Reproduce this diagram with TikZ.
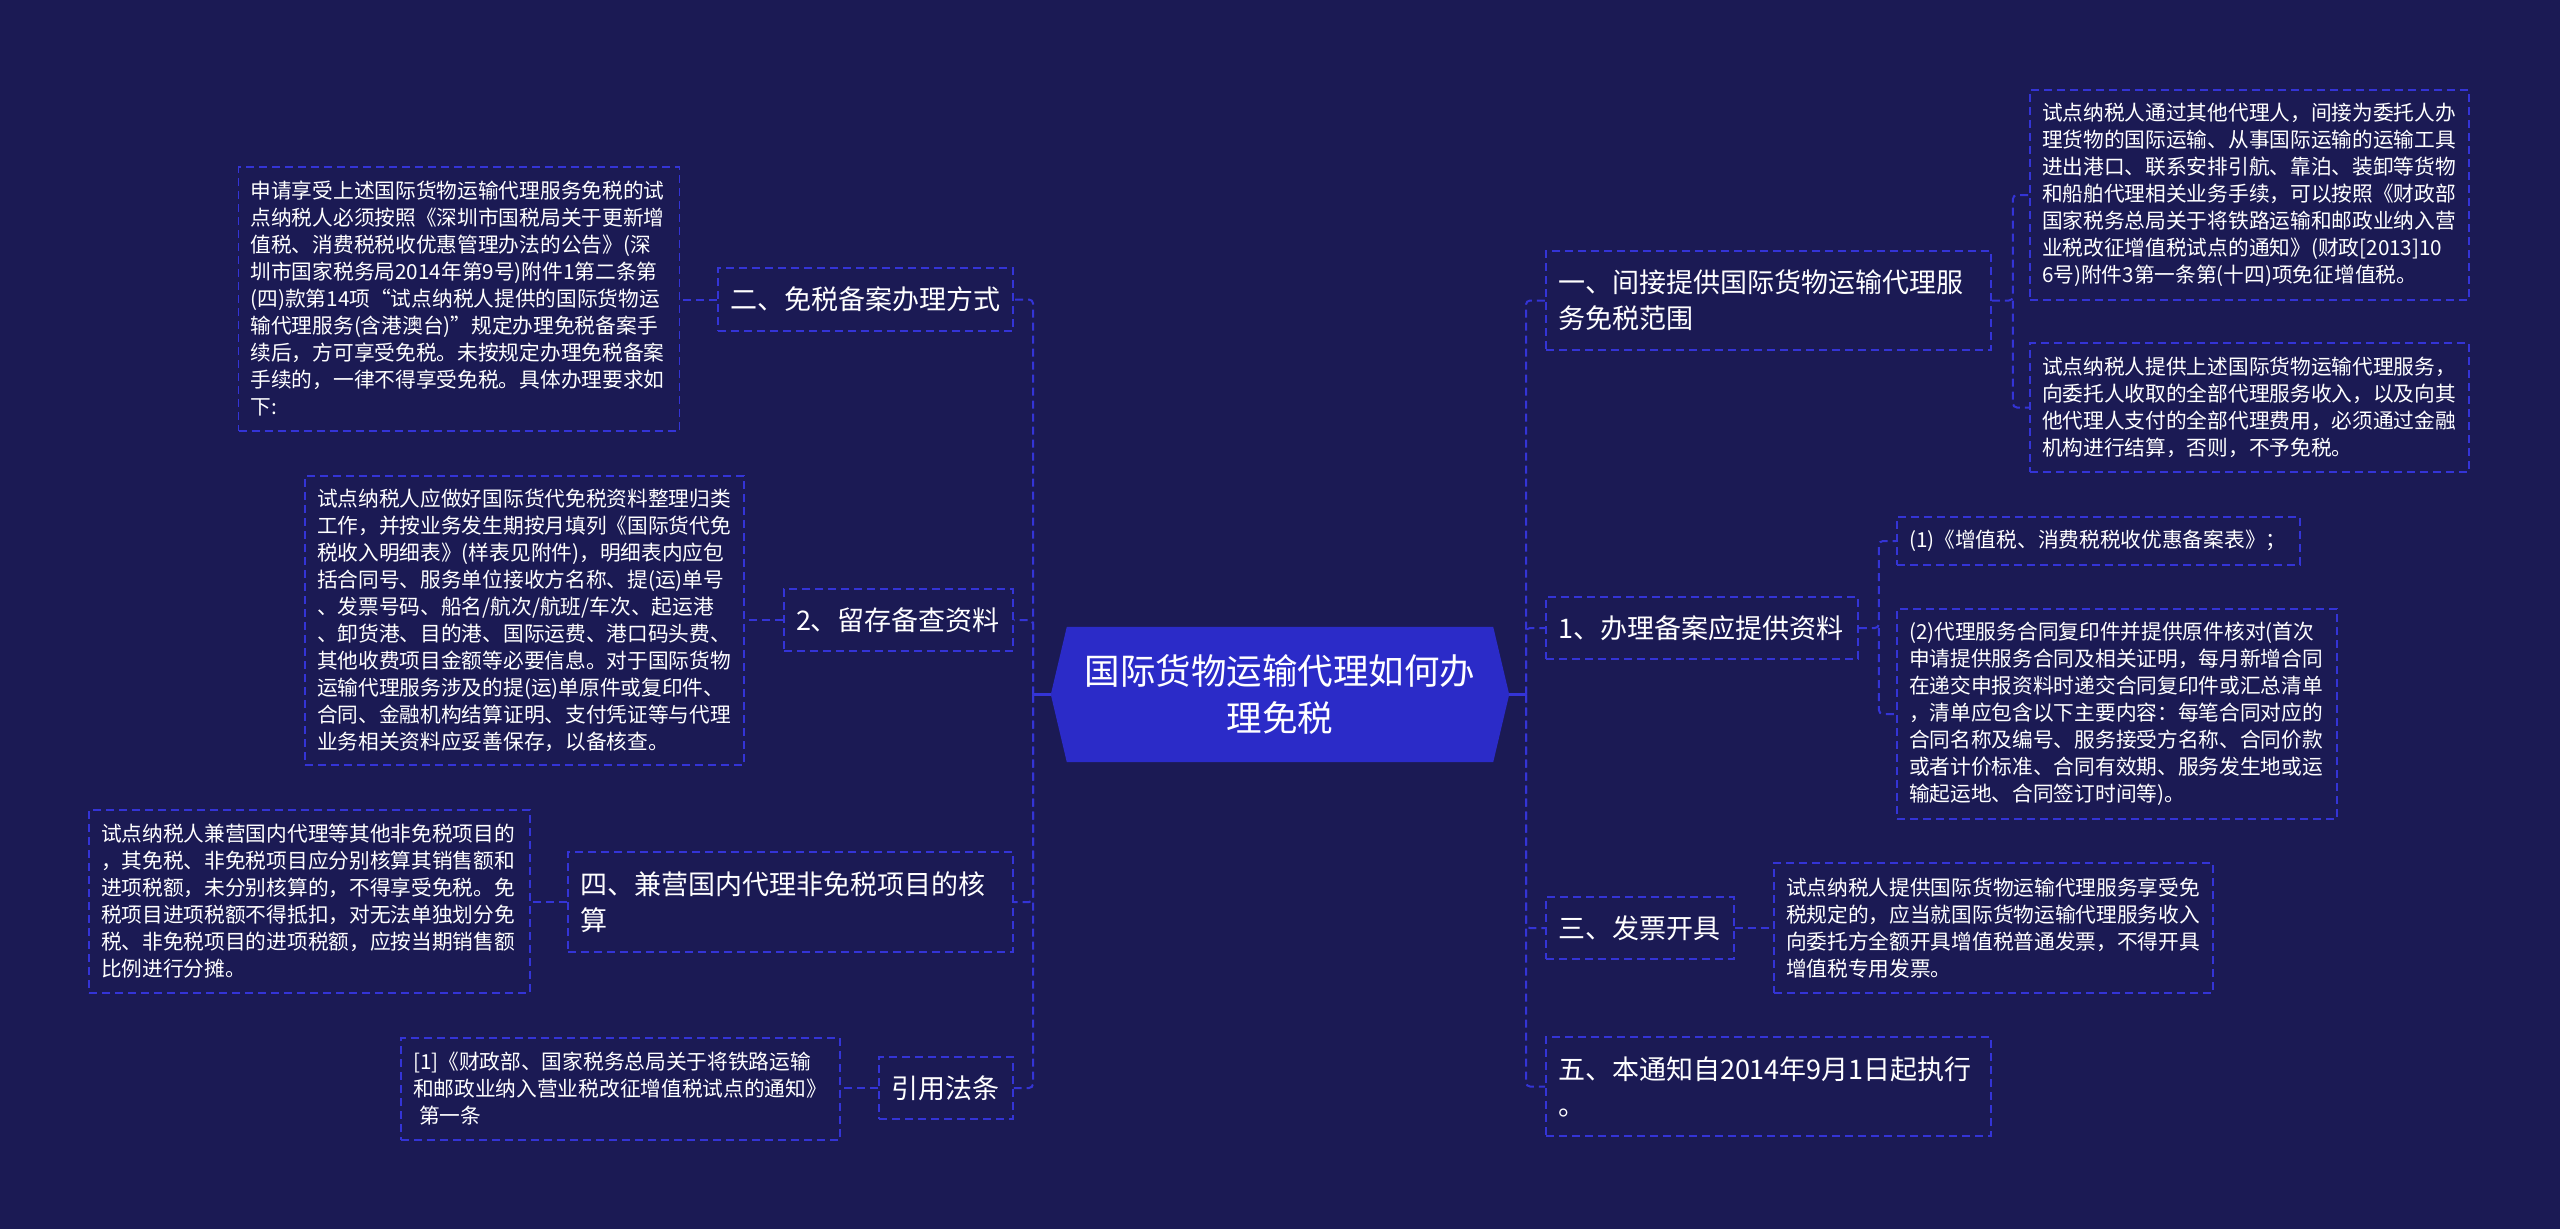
\documentclass[tikz,border=0pt]{standalone}
\usepackage{fontspec}
\setmainfont{Noto Sans CJK SC}
\usetikzlibrary{calc}
\definecolor{bgc}{RGB}{27,26,84}
\definecolor{linec}{RGB}{52,52,214}
\definecolor{centc}{RGB}{43,43,200}
\tikzset{
  box/.style={draw=linec, line width=1.8pt, dash pattern=on 8pt off 5pt, text=white, align=left, anchor=center, inner xsep=12pt, inner ysep=0pt},
  leaf/.style={box, font=\fontsize{20.7pt}{27pt}\selectfont},
  kid/.style={box, font=\fontsize{27pt}{36pt}\selectfont},
  conn/.style={draw=linec, line width=2pt, dash pattern=on 8pt off 5pt, rounded corners=4pt},
  trunk/.style={draw=linec, line width=2.5pt},
}
\begin{document}
\begin{tikzpicture}[x=1pt,y=-1pt]
\fill[bgc] (0,0) rectangle (2560,1229);
\useasboundingbox (0,0) rectangle (2560,1229);

% center
\path node[minimum width=458pt, minimum height=135pt, inner sep=0pt] (ctr) at (1280,694.5) {};
\fill[centc] ($(ctr.north west)+(16,0)$) -- ($(ctr.north east)+(-16,0)$) -- (ctr.east) -- ($(ctr.south east)+(-16,0)$) -- ($(ctr.south west)+(16,0)$) -- (ctr.west) -- cycle;
\node[text=white, align=center, font=\fontsize{35.5pt}{47pt}\selectfont] (ctrt) at (ctr.center) {国际货物运输代理如何办\\理免税};

% left children
\node[kid, text width=271pt, minimum height=63pt] (A2) at (865.5,299.5) {二、免税备案办理方式};
\node[kid, text width=205pt, minimum height=62pt] (B2) at (898.5,620) {2、留存备查资料};
\node[kid, text width=421pt, minimum height=100pt] (A4) at (790.5,902) {四、兼营国内代理非免税项目的核\\算};
\node[kid, text width=110pt, minimum height=62pt] (C) at (946,1088) {引用法条};

% left leaves
\node[leaf, text width=417pt, minimum height=264pt] (L2) at (459,299) {申请享受上述国际货物运输代理服务免税的试\\点纳税人必须按照《深圳市国税局关于更新增\\值税、消费税税收优惠管理办法的公告》(深\\圳市国家税务局2014年第9号)附件1第二条第\\(四)款第14项“试点纳税人提供的国际货物运\\输代理服务(含港澳台)”规定办理免税备案手\\续后，方可享受免税。未按规定办理免税备案\\手续的，一律不得享受免税。具体办理要求如\\下:};
\node[leaf, text width=415pt, minimum height=289pt] (LB2) at (524.5,620.5) {试点纳税人应做好国际货代免税资料整理归类\\工作，并按业务发生期按月填列《国际货代免\\税收入明细表》(样表见附件)，明细表内应包\\括合同号、服务单位接收方名称、提(运)单号\\、发票号码、船名/航次/航班/车次、起运港\\、卸货港、目的港、国际运费、港口码头费、\\其他收费项目金额等必要信息。对于国际货物\\运输代理服务涉及的提(运)单原件或复印件、\\合同、金融机构结算证明、支付凭证等与代理\\业务相关资料应妥善保存，以备核查。};
\node[leaf, text width=417pt, minimum height=183pt] (L4) at (309.5,901.5) {试点纳税人兼营国内代理等其他非免税项目的\\，其免税、非免税项目应分别核算其销售额和\\进项税额，未分别核算的，不得享受免税。免\\税项目进项税额不得抵扣，对无法单独划分免\\税、非免税项目的进项税额，应按当期销售额\\比例进行分摊。};
\node[leaf, text width=415pt, minimum height=102pt] (LC) at (620.5,1089) {[1]《财政部、国家税务总局关于将铁路运输\\和邮政业纳入营业税改征增值税试点的通知》\\\hspace*{0.3em}第一条};

% right children
\node[kid, text width=421pt, minimum height=99pt] (R1) at (1768.5,300.5) {一、间接提供国际货物运输代理服\\务免税范围};
\node[kid, text width=288pt, minimum height=62pt] (R2) at (1702,628) {1、办理备案应提供资料};
\node[kid, text width=164pt, minimum height=62pt] (R3) at (1640,928) {三、发票开具};
\node[kid, text width=421pt, minimum height=99pt] (R5) at (1768.5,1086.5) {五、本通知自2014年9月1日起执行\\。};

% right leaves
\node[leaf, text width=415pt, minimum height=210pt] (R1a) at (2249.5,195) {试点纳税人通过其他代理人，间接为委托人办\\理货物的国际运输、从事国际运输的运输工具\\进出港口、联系安排引航、靠泊、装卸等货物\\和船舶代理相关业务手续，可以按照《财政部\\国家税务总局关于将铁路运输和邮政业纳入营\\业税改征增值税试点的通知》(财政[2013]10\\6号)附件3第一条第(十四)项免征增值税。};
\node[leaf, text width=415pt, minimum height=129pt] (R1b) at (2249.5,407.5) {试点纳税人提供上述国际货物运输代理服务，\\向委托人收取的全部代理服务收入，以及向其\\他代理人支付的全部代理费用，必须通过金融\\机构进行结算，否则，不予免税。};
\node[leaf, text width=379pt, minimum height=48pt] (R2a) at (2098.5,541) {(1)《增值税、消费税税收优惠备案表》；};
\node[leaf, text width=416pt, minimum height=210pt] (R2b) at (2117,714) {(2)代理服务合同复印件并提供原件核对(首次\\申请提供服务合同及相关证明，每月新增合同\\在递交申报资料时递交合同复印件或汇总清单\\，清单应包含以下主要内容：每笔合同对应的\\合同名称及编号、服务接受方名称、合同价款\\或者计价标准、合同有效期、服务发生地或运\\输起运地、合同签订时间等)。};
\node[leaf, text width=415pt, minimum height=130pt] (R3L) at (1993.5,928) {试点纳税人提供国际货物运输代理服务享受免\\税规定的，应当就国际货物运输代理服务收入\\向委托方全额开具增值税普通发票，不得开具\\增值税专用发票。};

% connectors
\coordinate (lt) at (1033,694.5);
\coordinate (rt) at (1526,694.5);
\draw[trunk] (ctr.west) -- (lt);
\draw[trunk] (ctr.east) -- (rt);
\draw[conn] (lt) |- (A2.east);
\draw[conn] (lt) |- (B2.east);
\draw[conn] (lt) |- (A4.east);
\draw[conn] (lt) |- (C.east);
\draw[conn] (rt) |- (R1.west);
\draw[conn] (rt) |- (R2.west);
\draw[conn] (rt) |- (R3.west);
\draw[conn] (rt) |- (R5.west);

\draw[conn] (A2.west) -- (A2.west -| L2.east);
\draw[conn] (B2.west) -- (B2.west -| LB2.east);
\draw[conn] (A4.west) -- (A4.west -| L4.east);
\draw[conn] (C.west) -- (C.west -| LC.east);

\coordinate (b1) at ($(R1.east)+(21,0)$);
\draw[conn] (R1.east) -- (b1) |- (R1a.west);
\draw[conn] (b1) |- (R1b.west);
\coordinate (b2) at ($(R2.east)+(20,0)$);
\draw[conn] (R2.east) -- (b2) |- (R2a.west);
\draw[conn] (b2) |- (R2b.west);
\draw[conn] (R3.east) -- (R3.east -| R3L.west);
\end{tikzpicture}
\end{document}
